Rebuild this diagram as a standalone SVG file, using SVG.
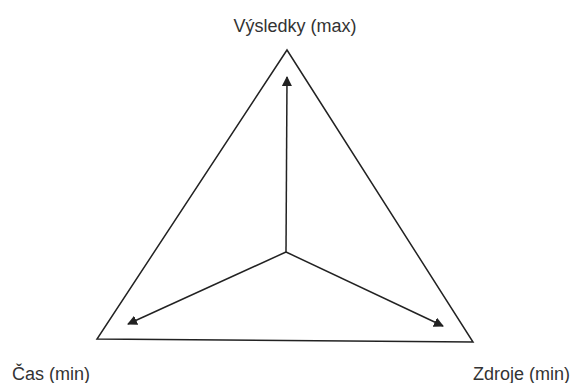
<svg xmlns="http://www.w3.org/2000/svg" width="576" height="383" viewBox="0 0 576 383">
<style>
.l{fill:#333;font-family:"Liberation Sans",Arial,sans-serif;font-size:18px}
.c{stroke:#222;stroke-width:1.5;fill:none}
</style>
<defs>
<marker id="a" viewBox="0 0 10 10" refX="9" refY="5" markerWidth="10" markerHeight="10" markerUnits="userSpaceOnUse" orient="auto">
<path d="M0,0 L10,5 L0,10 z" fill="#222"/>
</marker>
</defs>
<rect width="576" height="383" fill="#fff"/>
<g id="triangle"><path class="c" d="M287,50 L473,342 L97,339 Z"/></g>
<g id="connectors">
<line class="c" x1="286" y1="252" x2="287" y2="77" marker-end="url(#a)"/>
<line class="c" x1="286" y1="252" x2="128" y2="324" marker-end="url(#a)"/>
<line class="c" x1="286" y1="252" x2="443" y2="326" marker-end="url(#a)"/>
</g>
<g id="n-vysledky"><text class="l" x="295" y="32" text-anchor="middle">Výsledky (max)</text></g>
<g id="n-cas"><text class="l" x="12" y="380">Čas (min)</text></g>
<g id="n-zdroje"><text class="l" x="473" y="380">Zdroje (min)</text></g>
</svg>
